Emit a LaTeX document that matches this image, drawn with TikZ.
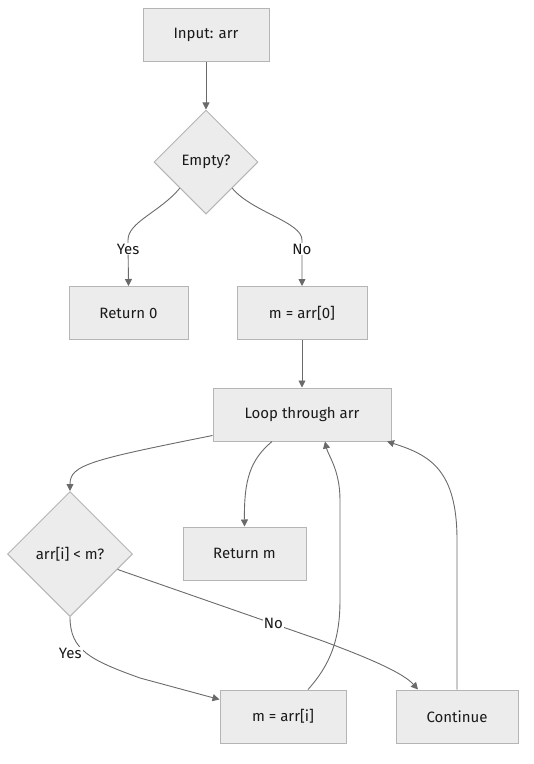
\documentclass[tikz,border=0pt]{standalone}
\usepackage{fontspec}
\setmainfont{Fira Sans}
\usetikzlibrary{arrows.meta,positioning,shapes.geometric}
\definecolor{boxfill}{HTML}{ECECEC}
\definecolor{boxline}{HTML}{B5B5B5}
\definecolor{flowline}{HTML}{6A6A6A}
\definecolor{flowtext}{HTML}{1A1A1A}

\begin{document}
\begin{tikzpicture}[x=1pt,y=-1pt,>={Triangle[length=7pt,width=7pt]},
  font=\fontsize{15}{18}\selectfont,
  box/.style={draw=boxline,fill=boxfill,line width=1pt,minimum height=53pt,inner sep=0pt,text=flowtext},
  test/.style={draw=boxline,fill=boxfill,line width=1pt,diamond,aspect=1,inner sep=0pt,text=flowtext},
  flow/.style={->,flowline,line width=0.9pt},
  lbl/.style={fill=white,inner sep=1pt,text=flowtext}]
  \useasboundingbox (0,0) rectangle (534,764);
  % nodes
  \node[box,minimum width=126pt] (input) at (206,34.5) {Input: arr};
  \node[test,minimum size=104pt] (empty) at (206,162) {Empty?};
  \node[box,minimum width=119pt] (ret0) at (128.5,313) {Return 0};
  \node[box,minimum width=130pt] (m0) at (302,313) {m = arr[0]};
  \node[box,minimum width=178pt] (loop) at (302,414.5) {Loop through arr};
  \node[test,minimum size=125pt] (cmp) at (70,554) {arr[i] < m?};
  \node[box,minimum width=123pt] (retm) at (244.5,553.5) {Return m};
  \node[box,minimum width=126pt] (upd) at (283,716.5) {m = arr[i]};
  \node[box,minimum width=122pt] (cont) at (457,716.5) {Continue};
  % edges
  \draw[flow] (input) -- (empty);
  \draw[flow] (empty.south west) .. controls (160,212) and (128,222) .. (128,240)
    -- (ret0.north) node[lbl,pos=0.2] {Yes};
  \draw[flow] (empty.south east) .. controls (252,212) and (302,222) .. (302,240)
    -- (m0.north) node[lbl,pos=0.2] {No};
  \draw[flow] (m0) -- (loop);
  \draw[flow] ([yshift=6pt]loop.south west) .. controls (90,460) and (70,465) .. (cmp.north);
  \draw[flow] ([xshift=-30pt]loop.south) .. controls (250,460) and (244,480) .. (retm.north);
  \draw[flow] (cmp.south) .. controls (70,650) and (90,660) .. (140,678)
    node[lbl,pos=0.5,xshift=-16pt] {Yes} -- ([yshift=17pt]upd.west);
  \draw[flow] (cmp.-18) -- (320,640) node[lbl,pos=0.77] {No}
    .. controls (380,662) and (405,675) .. ([xshift=-39pt]cont.north);
  \draw[flow] ([xshift=25pt]upd.north) .. controls (330,665) and (340,640) .. (340,600)
    -- (340,500) .. controls (340,470) and (328,455) .. ([xshift=23pt]loop.south);
  \draw[flow] (cont.north) -- (457,540) .. controls (457,470) and (430,455)
    .. ([xshift=85pt]loop.south);
\end{tikzpicture}
\end{document}
